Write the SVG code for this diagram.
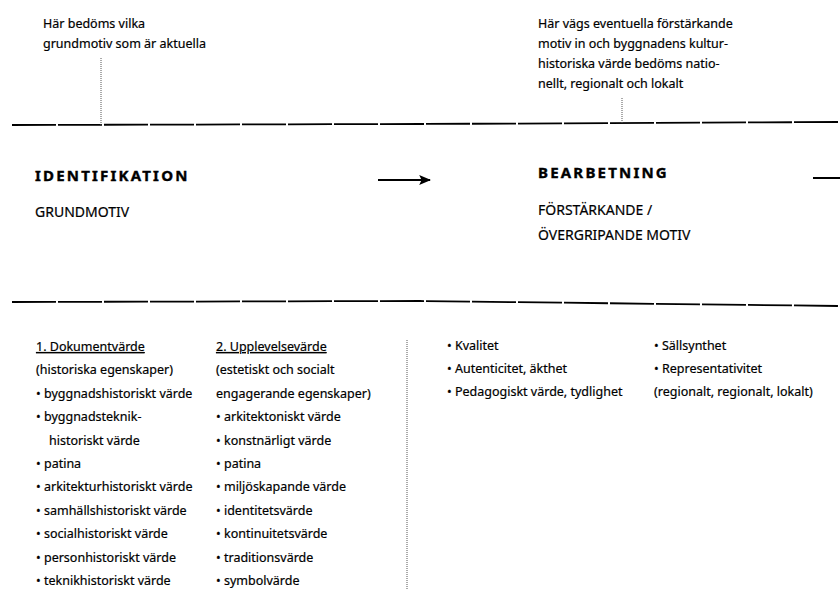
<svg xmlns="http://www.w3.org/2000/svg" width="840" height="590" viewBox="0 0 840 590">
<defs>
<style>
text{font-family:"Noto Sans","Open Sans","DejaVu Sans",sans-serif;fill:#000;font-size:12.5px;stroke:#000;stroke-width:0.2}
.note{font-size:12.5px}
.head{font-size:15px;font-weight:bold;letter-spacing:2.2px;stroke-width:0.4}
.sub{font-size:14px}
.ul{text-decoration:underline}
.rule{stroke:#000;stroke-width:1.8;fill:none;stroke-dasharray:44 2}
.lead{stroke:#555;stroke-width:1;stroke-dasharray:1 1;fill:none}
.conn{stroke:#000;stroke-width:2;fill:none}
</style>
<marker id="ah" viewBox="0 0 10 10" refX="9" refY="5" markerWidth="6" markerHeight="5" orient="auto" markerUnits="strokeWidth" preserveAspectRatio="none">
<path d="M0,0 L10,5 L0,10 L2,5 z" fill="#000"/>
</marker>
</defs>
<rect width="840" height="590" fill="#fff"/>

<g id="rules">
<path class="rule" d="M12,125 L420,124 L840,122"/>
<path class="rule" d="M12,302 L420,301 L840,306"/>
<path class="lead" d="M101,58 V125"/>
<path class="lead" d="M622,98 V123"/>
<path class="lead" d="M407,340 V590"/>
</g>

<g id="note-left">
<text class="note" x="43" y="28">Här bedöms vilka</text>
<text class="note" x="43" y="48">grundmotiv som är aktuella</text>
</g>

<g id="note-right">
<text class="note" x="538" y="28">Här vägs eventuella förstärkande</text>
<text class="note" x="538" y="48">motiv in och byggnadens kultur-</text>
<text class="note" x="538" y="68">historiska värde bedöms natio-</text>
<text class="note" x="538" y="88">nellt, regionalt och lokalt</text>
</g>

<g id="identifikation">
<text class="head" x="35" y="181">IDENTIFIKATION</text>
<text class="sub" x="35" y="217">GRUNDMOTIV</text>
</g>

<g id="bearbetning">
<text class="head" x="538" y="178">BEARBETNING</text>
<text class="sub" x="538" y="215">FÖRSTÄRKANDE /</text>
<text class="sub" x="538" y="240">ÖVERGRIPANDE MOTIV</text>
</g>

<g id="connectors">
<path class="conn" d="M378,180 H430" marker-end="url(#ah)"/>
<path class="conn" d="M813,178 H840"/>
</g>

<g id="dokumentvarde">
<text class="ul" x="36" y="351">1. Dokumentvärde</text>
<text x="36" y="374">(historiska egenskaper)</text>
<text x="36" y="398">• byggnadshistoriskt värde</text>
<text x="36" y="421">• byggnadsteknik-</text>
<text x="49" y="445">historiskt värde</text>
<text x="36" y="468">• patina</text>
<text x="36" y="491">• arkitekturhistoriskt värde</text>
<text x="36" y="515">• samhällshistoriskt värde</text>
<text x="36" y="538">• socialhistoriskt värde</text>
<text x="36" y="562">• personhistoriskt värde</text>
<text x="36" y="585">• teknikhistoriskt värde</text>
</g>

<g id="upplevelsevarde">
<text class="ul" x="216" y="351">2. Upplevelsevärde</text>
<text x="216" y="374">(estetiskt och socialt</text>
<text x="216" y="398">engagerande egenskaper)</text>
<text x="216" y="421">• arkitektoniskt värde</text>
<text x="216" y="445">• konstnärligt värde</text>
<text x="216" y="468">• patina</text>
<text x="216" y="491">• miljöskapande värde</text>
<text x="216" y="515">• identitetsvärde</text>
<text x="216" y="538">• kontinuitetsvärde</text>
<text x="216" y="562">• traditionsvärde</text>
<text x="216" y="585">• symbolvärde</text>
</g>

<g id="forstarkande">
<text x="447" y="350">• Kvalitet</text>
<text x="447" y="373">• Autenticitet, äkthet</text>
<text x="447" y="396">• Pedagogiskt värde, tydlighet</text>
</g>

<g id="overgripande">
<text x="654" y="350">• Sällsynthet</text>
<text x="654" y="373">• Representativitet</text>
<text x="654" y="396">(regionalt, regionalt, lokalt)</text>
</g>
</svg>
